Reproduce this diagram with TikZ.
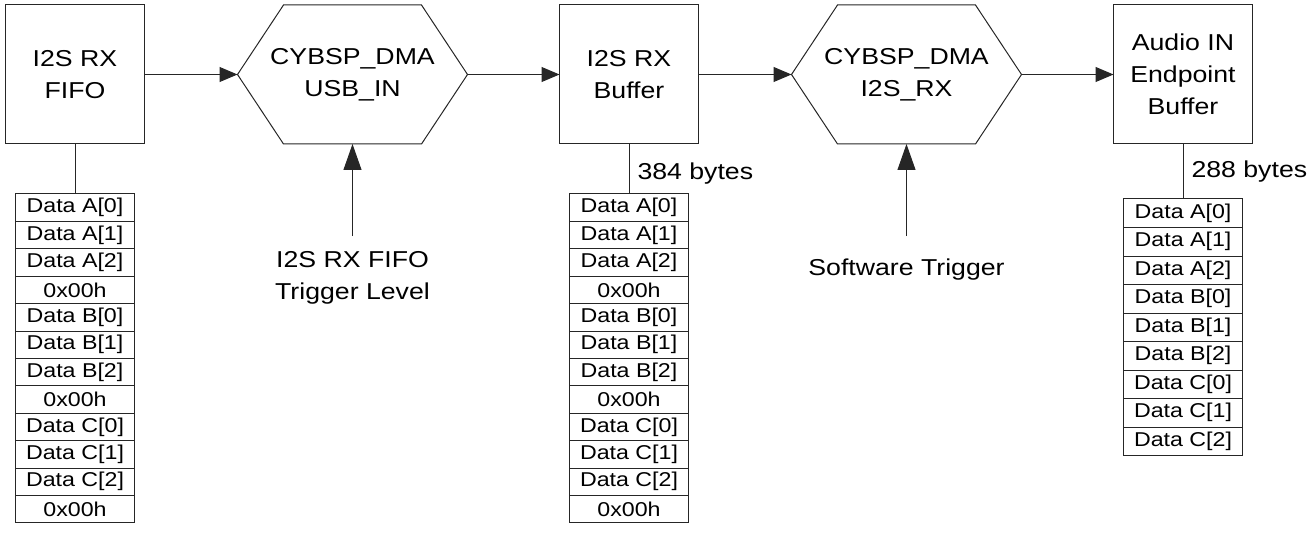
\documentclass[tikz,border=0pt]{standalone}
\usepackage{fontspec}
\setmainfont{Liberation Sans}[FakeStretch=1.16]
\usetikzlibrary{positioning,arrows.meta}
\newcommand\blkfont{\fontsize{23}{32}\selectfont}
\newcommand\cellfnt{\fontsize{20}{22}\selectfont}

\begin{document}
\begin{tikzpicture}[x=1pt, y=1pt, line width=1pt, draw=black!85,
  blk/.style={draw, minimum width=139pt, minimum height=139pt, inner sep=0pt, outer sep=0pt, align=center, font=\blkfont},
  hexa/.style={minimum width=230pt, minimum height=139pt, inner sep=0pt, outer sep=0pt, align=center, font=\blkfont},
  cell/.style={draw, minimum width=119.5pt, minimum height=27.4pt, inner sep=0pt, outer sep=0pt, font=\cellfnt},
  lbl/.style={align=center, inner sep=0pt, font=\blkfont},
  harr/.style={-{Triangle[length=18pt,width=15pt]}},
  varr/.style={-{Triangle[length=26pt,width=18pt]}}]
\useasboundingbox (0,0) rectangle (1314,-540);
\node[blk] (fifo) at (75,-74.5) {I2S RX\\FIFO};
\node[hexa, right=93pt of fifo] (dmausb) {CYBSP\_DMA\\USB\_IN};
\node[blk, right=92pt of dmausb] (rxbuf) {I2S RX\\Buffer};
\node[hexa, right=93pt of rxbuf] (dmai2s) {CYBSP\_DMA\\I2S\_RX};
\node[blk, right=92pt of dmai2s] (epbuf) {Audio IN\\Endpoint\\Buffer};
\draw (dmausb.west) -- ([xshift=46pt]dmausb.north west) -- ([xshift=-46pt]dmausb.north east) -- (dmausb.east) -- ([xshift=-46pt]dmausb.south east) -- ([xshift=46pt]dmausb.south west) -- cycle;
\draw (dmai2s.west) -- ([xshift=46pt]dmai2s.north west) -- ([xshift=-46pt]dmai2s.north east) -- (dmai2s.east) -- ([xshift=-46pt]dmai2s.south east) -- ([xshift=46pt]dmai2s.south west) -- cycle;
\draw[harr] (fifo) -- (dmausb.west);
\draw[harr] (dmausb.east) -- (rxbuf);
\draw[harr] (rxbuf) -- (dmai2s.west);
\draw[harr] (dmai2s.east) -- (epbuf);
% triggers
\coordinate[below=92pt of dmausb] (trgfifo);
\coordinate[below=92pt of dmai2s] (trgsw);
\node[lbl, below=15pt of trgfifo] (fifolvl) {I2S RX FIFO\\Trigger Level};
\node[lbl, below=22pt of trgsw] (swtrg) {Software Trigger};
\draw[varr] (trgfifo) -- (dmausb.south);
\draw[varr] (trgsw) -- (dmai2s.south);
% fifo contents
\node[cell, below=50pt of fifo] (ff1) {Data A[0]};
\node[cell, below=0pt of ff1] (ff2) {Data A[1]};
\node[cell, below=0pt of ff2] (ff3) {Data A[2]};
\node[cell, below=0pt of ff3] (ff4) {0x00h};
\node[cell, below=0pt of ff4] (ff5) {Data B[0]};
\node[cell, below=0pt of ff5] (ff6) {Data B[1]};
\node[cell, below=0pt of ff6] (ff7) {Data B[2]};
\node[cell, below=0pt of ff7] (ff8) {0x00h};
\node[cell, below=0pt of ff8] (ff9) {Data C[0]};
\node[cell, below=0pt of ff9] (ff10) {Data C[1]};
\node[cell, below=0pt of ff10] (ff11) {Data C[2]};
\node[cell, below=0pt of ff11] (ff12) {0x00h};
\draw (fifo) -- (ff1);
% rx buffer contents
\node[cell, below=50pt of rxbuf] (bf1) {Data A[0]};
\node[cell, below=0pt of bf1] (bf2) {Data A[1]};
\node[cell, below=0pt of bf2] (bf3) {Data A[2]};
\node[cell, below=0pt of bf3] (bf4) {0x00h};
\node[cell, below=0pt of bf4] (bf5) {Data B[0]};
\node[cell, below=0pt of bf5] (bf6) {Data B[1]};
\node[cell, below=0pt of bf6] (bf7) {Data B[2]};
\node[cell, below=0pt of bf7] (bf8) {0x00h};
\node[cell, below=0pt of bf8] (bf9) {Data C[0]};
\node[cell, below=0pt of bf9] (bf10) {Data C[1]};
\node[cell, below=0pt of bf10] (bf11) {Data C[2]};
\node[cell, below=0pt of bf11] (bf12) {0x00h};
\draw (rxbuf) -- node[lbl, pos=0.6, right=8pt] {384 bytes} (bf1);
% endpoint contents
\node[cell, minimum height=28.5pt, below=55pt of epbuf] (ep1) {Data A[0]};
\node[cell, minimum height=28.5pt, below=0pt of ep1] (ep2) {Data A[1]};
\node[cell, minimum height=28.5pt, below=0pt of ep2] (ep3) {Data A[2]};
\node[cell, minimum height=28.5pt, below=0pt of ep3] (ep4) {Data B[0]};
\node[cell, minimum height=28.5pt, below=0pt of ep4] (ep5) {Data B[1]};
\node[cell, minimum height=28.5pt, below=0pt of ep5] (ep6) {Data B[2]};
\node[cell, minimum height=28.5pt, below=0pt of ep6] (ep7) {Data C[0]};
\node[cell, minimum height=28.5pt, below=0pt of ep7] (ep8) {Data C[1]};
\node[cell, minimum height=28.5pt, below=0pt of ep8] (ep9) {Data C[2]};
\draw (epbuf) -- node[lbl, pos=0.5, right=8pt] {288 bytes} (ep1);
\end{tikzpicture}
\end{document}
